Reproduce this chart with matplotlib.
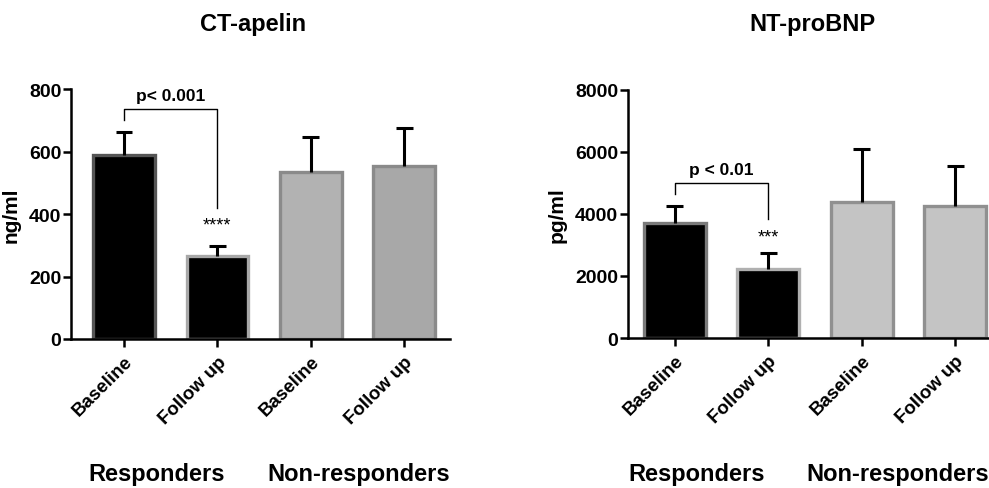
import matplotlib
matplotlib.use("Agg")
import matplotlib.pyplot as plt

plt.rcParams['font.family'] = ['Liberation Sans', 'DejaVu Sans']
plt.rcParams['font.weight'] = 'bold'
plt.rcParams['axes.labelweight'] = 'bold'

# data
groups = ['Baseline', 'Follow up', 'Baseline', 'Follow up']
apelin_mean = [590, 267, 534, 553]
apelin_err = [72, 32, 113, 121]
bnp_mean = [3710, 2226, 4397, 4268]
bnp_err = [550, 516, 1678, 1272]

fig = plt.figure(figsize=(9.89, 4.89), dpi=100)

def panel(ax, means, errs, ymax, ystep, fills, edges, ylabel, ptext, stars, y_br, y_leg, y_drop, y_star):
    x = list(range(len(means)))
    ax.bar(x, means, width=0.66, color=fills, edgecolor=edges, linewidth=2.4, zorder=2)
    # upward-only error bars
    tops = [m + e for m, e in zip(means, errs)]
    ax.vlines(x, means, tops, color='black', lw=2.2, zorder=3)
    ax.hlines(tops, [i - 0.09 for i in x], [i + 0.09 for i in x], color='black', lw=2.2, zorder=3)
    ax.set_ylim(0, ymax)
    ax.set_yticks(range(0, ymax + 1, ystep))
    ax.set_xticks(x)
    ax.set_xticklabels(groups, rotation=45, ha='right', rotation_mode='anchor', fontsize=13.5)
    ax.tick_params(axis='y', labelsize=14, width=1.8, length=6, pad=1)
    ax.tick_params(axis='x', width=1.8, length=6, pad=4)
    for s in ['top', 'right']:
        ax.spines[s].set_visible(False)
    for s in ['left', 'bottom']:
        ax.spines[s].set_linewidth(1.8)
    ax.set_ylabel(ylabel, fontsize=15, labelpad=6)
    # significance bracket
    ax.plot([0, 0, 1, 1], [y_leg, y_br, y_br, y_drop], color='black', lw=1, clip_on=False)
    ax.text(0.5, y_br + ymax * 0.025, ptext, ha='center', va='bottom', fontsize=12.5)
    ax.text(1, y_star, stars, ha='center', va='center', fontsize=13, fontweight='normal')

ax1 = fig.add_axes([71 / 989, 149 / 489, 379 / 989, 250 / 489])
ax1.set_xlim(-0.567, 3.49)
panel(ax1, apelin_mean, apelin_err, 800, 200,
      ['black', 'black', '#b2b2b2', '#a8a8a8'], ['#555555', '#a8a8a8', '#8a8a8a', '#8a8a8a'],
      'ng/ml', 'p< 0.001', '****', 735, 700, 420, 365)

ax2 = fig.add_axes([628 / 989, 150 / 489, 374 / 989, 248.3 / 489])
ax2.set_xlim(-0.5, 3.5)
panel(ax2, bnp_mean, bnp_err, 8000, 2000,
      ['black', 'black', '#c4c4c4', '#c4c4c4'], ['#7a7a7a', '#b0b0b0', '#909090', '#909090'],
      'pg/ml', 'p < 0.01', '***', 5000, 4650, 3850, 3250)

fig.text(253 / 989, 1 - 25 / 489, 'CT-apelin', ha='center', va='center', fontsize=17)
fig.text(812 / 989, 1 - 25 / 489, 'NT-proBNP', ha='center', va='center', fontsize=17)
fig.text(157 / 989, 1 - 475 / 489, 'Responders', ha='center', va='center', fontsize=17)
fig.text(359 / 989, 1 - 475 / 489, 'Non-responders', ha='center', va='center', fontsize=17)
fig.text(697 / 989, 1 - 475 / 489, 'Responders', ha='center', va='center', fontsize=17)
fig.text(898 / 989, 1 - 475 / 489, 'Non-responders', ha='center', va='center', fontsize=17)

fig.savefig('out.png', dpi=100)
